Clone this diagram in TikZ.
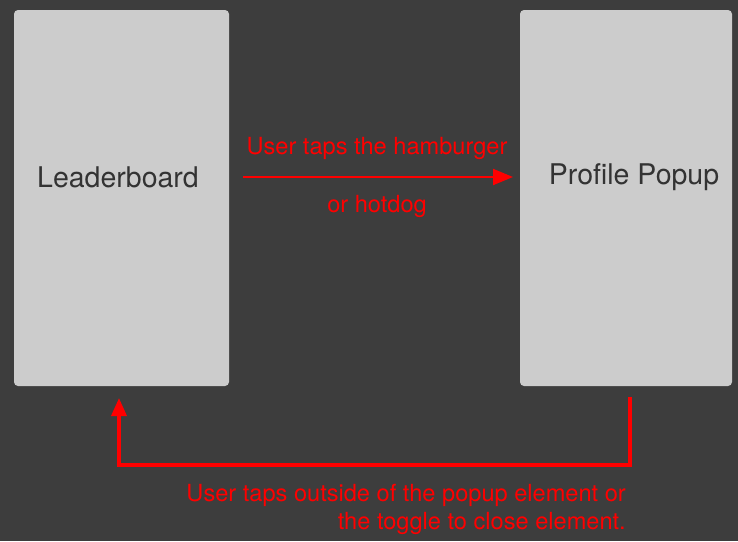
\documentclass[tikz,border=0pt]{standalone}
\usepackage{fontspec}
\setmainfont{TeX Gyre Heros}
\usetikzlibrary{arrows.meta,positioning}
\definecolor{bgdark}{HTML}{3D3D3D}
\definecolor{screengray}{HTML}{CCCCCC}
\definecolor{labeldark}{HTML}{333333}
\definecolor{flowred}{HTML}{FF0000}
\tikzset{
  screen/.style={fill=screengray, draw=none, rounded corners=4pt, minimum width=215pt, minimum height=376pt},
  screentext/.style={text=labeldark, font=\fontsize{28.5}{34}\selectfont},
  flowtext/.style={text=flowred, font=\fontsize{23.6}{28}\selectfont},
  flow/.style={draw=flowred, -{Triangle[length=20pt,width=16pt]}}
}
\begin{document}
\begin{tikzpicture}[x=1pt, y=-1pt]
        % Draw background
        \fill[bgdark] (0,0) rectangle (738,541);
        \useasboundingbox (0,0) rectangle (738,541);
        % Draw screens
        \node[screen] (leader) at (121.5,198) {};
        \node[screen, minimum width=212pt] (profile) at (626,198) {};
        \node[screentext] (leadername) at (118,177) {Leaderboard};
        \node[screentext] (profilename) at (634,177) {Profile Popup};
        % Draw open transition
        \coordinate (openstart) at (243,177);
        \coordinate (openend) at (513,177);
        \draw[flow, line width=2pt] (openstart) -- (openend);
        \node[flowtext] (opentop) at (377,148) {User taps the hamburger};
        \node[flowtext] (openbottom) at (377,206) {or hotdog};
        % Draw close transition
        \coordinate (closestart) at (630,397);
        \coordinate (closeend) at (119,398);
        \draw[flow, line width=3.5pt, -{Triangle[length=18pt,width=15pt]}] (closestart) -- (630,465) -| (closeend);
        \node[flowtext, align=right, anchor=east, inner sep=0pt] (closetext) at (626,509) {User taps outside of the popup element or\\the toggle to close element.};
    \end{tikzpicture}
\end{document}
